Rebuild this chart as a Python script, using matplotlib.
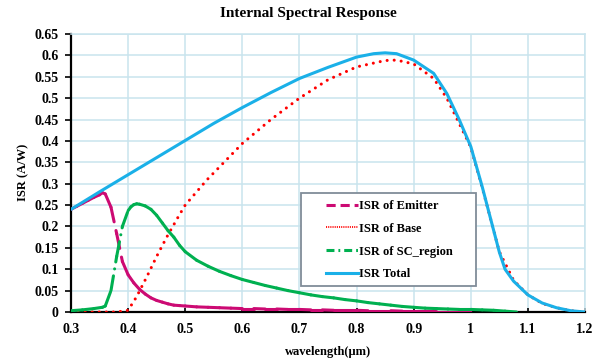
import matplotlib
matplotlib.use("Agg")
import matplotlib.pyplot as plt
import numpy as np
from matplotlib.collections import LineCollection
from matplotlib.lines import Line2D
from matplotlib.patches import Rectangle

# ---------------- data ----------------
wl_emitter = [0.30, 0.31, 0.32, 0.33, 0.34, 0.35, 0.355, 0.36, 0.37, 0.38, 0.39,
              0.40, 0.41, 0.42, 0.43, 0.44, 0.45, 0.46, 0.47, 0.48, 0.49, 0.50,
              0.52, 0.54, 0.56, 0.58, 0.60, 0.62, 0.64, 0.66, 0.68, 0.70, 0.72,
              0.74, 0.76, 0.78, 0.80, 0.82, 0.84, 0.86, 0.88, 0.90, 0.92, 0.94,
              0.96, 0.98, 1.00]
isr_emitter = [0.240, 0.247, 0.254, 0.261, 0.268, 0.274, 0.279, 0.276, 0.245, 0.183, 0.118,
               0.087, 0.068, 0.053, 0.042, 0.033, 0.027, 0.023, 0.019, 0.016, 0.015, 0.014,
               0.012, 0.011, 0.010, 0.009, 0.008, 0.008, 0.007, 0.007, 0.006, 0.006, 0.005,
               0.005, 0.004, 0.004, 0.004, 0.003, 0.003, 0.003, 0.002, 0.002, 0.002, 0.001,
               0.001, 0.001, 0.000]

wl_base = [0.30, 0.35, 0.38, 0.40, 0.415, 0.433, 0.45, 0.468, 0.488, 0.50, 0.538,
           0.60, 0.65, 0.70, 0.75, 0.80, 0.85, 0.87, 0.90, 0.935, 0.958, 0.98,
           1.00, 1.02, 1.05, 1.075, 1.10, 1.125, 1.15, 1.175, 1.20]
isr_base = [0.000, 0.000, 0.000, 0.004, 0.036, 0.083, 0.130, 0.176, 0.223, 0.250, 0.309,
            0.394, 0.450, 0.500, 0.543, 0.573, 0.588, 0.589, 0.580, 0.546, 0.500, 0.440,
            0.385, 0.291, 0.141, 0.074, 0.040, 0.020, 0.010, 0.003, 0.000]

wl_sc = [0.30, 0.32, 0.34, 0.355, 0.36, 0.37, 0.38, 0.39, 0.40, 0.405, 0.41, 0.415,
         0.42, 0.43, 0.44, 0.45, 0.46, 0.47, 0.48, 0.49, 0.50, 0.52, 0.54, 0.56,
         0.58, 0.60, 0.62, 0.64, 0.66, 0.68, 0.70, 0.72, 0.74, 0.76, 0.78, 0.80,
         0.82, 0.84, 0.86, 0.88, 0.90, 0.92, 0.94, 0.96, 0.98, 1.00, 1.02, 1.04,
         1.06, 1.08]
isr_sc = [0.003, 0.005, 0.008, 0.011, 0.014, 0.050, 0.130, 0.200, 0.237, 0.246, 0.251, 0.253,
          0.252, 0.248, 0.240, 0.226, 0.208, 0.190, 0.175, 0.156, 0.141, 0.121, 0.107, 0.095,
          0.085, 0.076, 0.069, 0.062, 0.056, 0.050, 0.045, 0.040, 0.036, 0.033, 0.029, 0.026,
          0.022, 0.019, 0.016, 0.013, 0.011, 0.009, 0.008, 0.007, 0.006, 0.006, 0.005, 0.004,
          0.002, 0.000]

wl_total = [0.30, 0.35, 0.40, 0.45, 0.50, 0.55, 0.60, 0.65, 0.70, 0.75, 0.80, 0.83,
            0.85, 0.87, 0.90, 0.935, 0.958, 0.98, 1.00, 1.02, 1.05, 1.06, 1.075, 1.10,
            1.125, 1.15, 1.175, 1.20]
isr_total = [0.240, 0.281, 0.321, 0.361, 0.401, 0.441, 0.478, 0.513, 0.546, 0.572, 0.596, 0.604,
             0.606, 0.604, 0.589, 0.558, 0.511, 0.449, 0.387, 0.293, 0.140, 0.100, 0.072, 0.040,
             0.021, 0.010, 0.003, 0.000]

labels = ["ISR of Emitter", "ISR of Base", "ISR of SC_region", "ISR Total"]
title = "Internal Spectral Response"
xlabel = "wavelength(\u03bcm)"
ylabel = "ISR (A/W)"
xticks = [0.3, 0.4, 0.5, 0.6, 0.7, 0.8, 0.9, 1.0, 1.1, 1.2]
xtick_labels = ["0.3", "0.4", "0.5", "0.6", "0.7", "0.8", "0.9", "1", "1.1", "1.2"]
yticks = [0, 0.05, 0.1, 0.15, 0.2, 0.25, 0.3, 0.35, 0.4, 0.45, 0.5, 0.55, 0.6, 0.65]
ytick_labels = ["0", "0.05", "0.1", "0.15", "0.2", "0.25", "0.3", "0.35", "0.4",
                "0.45", "0.5", "0.55", "0.6", "0.65"]

# ---------------- style ----------------
plt.rcParams['font.family'] = ['Liberation Serif', 'DejaVu Serif']
plt.rcParams['font.weight'] = 'bold'
C_EMIT = '#CC0A73'
C_BASE = '#FF0000'
C_SC = '#00B050'
C_TOT = '#1AB0E8'
C_GRID = '#C9E4EE'
LW = 2.2

W, H = 598, 362
fig = plt.figure(figsize=(W / 100, H / 100), dpi=100)
L, R, T, B = 71, 585, 34, 312
ax = fig.add_axes([L / W, 1 - B / H, (R - L) / W, (B - T) / H])

def segs(x, y):
    pts = np.column_stack([x, y])
    return np.stack([pts[:-1], pts[1:]], axis=1)

# Emitter (dash pattern restarts on every segment, as in the source chart)
lc_e = LineCollection(segs(wl_emitter, isr_emitter), colors=C_EMIT, linewidths=LW,
                      linestyles=[(0, (4.9, 2.9))], capstyle='round', joinstyle='round', zorder=3)
ax.add_collection(lc_e)
# Base
ax.plot(wl_base, isr_base, color=C_BASE, lw=LW, linestyle=(0, (0.01, 2.3)),
        dash_capstyle='round', zorder=4)
# SC region
lc_s = LineCollection(segs(wl_sc, isr_sc), colors=C_SC, linewidths=LW,
                      linestyles=[(0, (4.9, 2.3, 0.01, 2.3))], capstyle='round', joinstyle='round',
                      zorder=5)
ax.add_collection(lc_s)
# Total
ax.plot(wl_total, isr_total, color=C_TOT, lw=LW, solid_capstyle='round', zorder=6)

ax.set_xlim(0.3, 1.2)
ax.set_ylim(0, 0.65)
ax.set_xticks(xticks)
ax.set_xticklabels(xtick_labels)
ax.set_yticks(yticks)
ax.set_yticklabels(ytick_labels)
ax.grid(True, color=C_GRID, lw=1.1, zorder=0)
ax.set_axisbelow(True)
for s in ['top', 'right']:
    ax.spines[s].set_color(C_GRID)
    ax.spines[s].set_linewidth(1.1)
for s in ['left', 'bottom']:
    ax.spines[s].set_color('black')
    ax.spines[s].set_linewidth(1.6)
ax.tick_params(axis='y', direction='out', length=4, width=1.2, pad=5, labelsize=10)
ax.tick_params(axis='x', direction='in', length=3, width=1.2, pad=8, labelsize=10)
for t in ax.get_xticklabels() + ax.get_yticklabels():
    t.set_fontweight('bold')

fig.text(308 / W, 1 - 13 / H, title, ha='center', va='center', fontsize=11, fontweight='bold')
fig.text(328 / W, 1 - 352 / H, xlabel, ha='center', va='center', fontsize=9, fontweight='bold')
fig.text(23 / W, 1 - 172 / H, ylabel, ha='center', va='center', rotation=90, fontsize=9,
         fontweight='bold')

# Legend
handles = [
    Line2D([], [], color=C_EMIT, lw=LW, linestyle=(0, (3.0, 1.6))),
    Line2D([], [], color=C_BASE, lw=1.3, linestyle=(0, (0.6, 0.6))),
    Line2D([], [], color=C_SC, lw=LW, linestyle=(0, (2.6, 1.3, 0.6, 1.3))),
    Line2D([], [], color=C_TOT, lw=LW),
]
box = Rectangle((301 / W, 1 - 286 / H), 175 / W, 93 / H, transform=fig.transFigure,
                facecolor='white', edgecolor='#808C99', lw=1.3, zorder=10, clip_on=False)
ax.add_patch(box)
leg = ax.legend(handles, labels, loc='upper left', bbox_to_anchor=(326 / W, 1 - 200 / H),
                bbox_transform=fig.transFigure, frameon=False, borderpad=0, borderaxespad=0,
                handlelength=2.56, handletextpad=0.1, labelspacing=0.86,
                prop={'family': 'Liberation Serif', 'weight': 'bold', 'size': 9})
leg.set_zorder(11)

fig.savefig('out.png', dpi=100)
